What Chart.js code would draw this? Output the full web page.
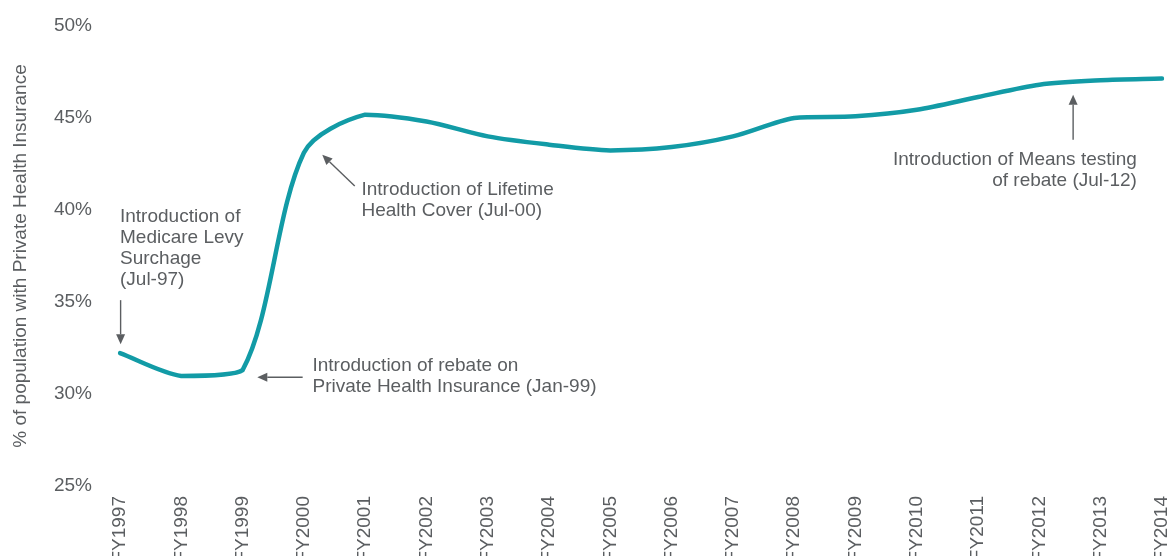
<!DOCTYPE html>
<html>
<head>
<meta charset="utf-8">
<title>Private Health Insurance coverage</title>
<script src="https://cdn.jsdelivr.net/npm/chart.js@4/dist/chart.umd.min.js"></script>
<style>
  html, body { margin: 0; padding: 0; background: #fff; overflow: hidden; }
  #wrap { width: 1168px; height: 556px; overflow: hidden; position: relative; }
  canvas { display: block; }
</style>
</head>
<body>
<div id="wrap">
  <canvas id="phiChart" width="1180" height="600"></canvas>
</div>
<script>
// Financial years shown on the x axis
const years = ['FY1997', 'FY1998', 'FY1999', 'FY2000', 'FY2001', 'FY2002', 'FY2003', 'FY2004', 'FY2005',
  'FY2006', 'FY2007', 'FY2008', 'FY2009', 'FY2010', 'FY2011', 'FY2012', 'FY2013', 'FY2014'];

// % of population with Private Health Insurance
const coverage = [32.22, 30.98, 31.3, 43.11, 45.18, 44.81, 44.0, 43.55, 43.24,
  43.42, 44.0, 45.0, 45.09, 45.45, 46.14, 46.81, 47.05, 47.14];

// Y axis range and step (percent)
const yMin = 25;
const yMax = 50;
const yStep = 5;

// Policy notes: text lines, anchor (year index, %) and arrow from/to
const notes = [
  {
    lines: ['Introduction of', 'Medicare Levy', 'Surchage', '(Jul-97)'],
    at: [0, 39.37], align: 'left',
    arrow: [0.01, 35.1, 0.01, 32.7]
  },
  {
    lines: ['Introduction of Lifetime', 'Health Cover (Jul-00)'],
    at: [3.94, 40.82], align: 'left',
    arrow: [3.83, 41.31, 3.30, 43.0]
  },
  {
    lines: ['Introduction of rebate on', 'Private Health Insurance (Jan-99)'],
    at: [3.14, 31.25], align: 'left',
    arrow: [2.98, 30.91, 2.24, 30.91]
  },
  {
    lines: ['Introduction of Means testing', 'of rebate (Jul-12)'],
    at: [16.59, 42.46], align: 'right',
    arrow: [15.55, 43.82, 15.55, 46.27]
  }
];

const textGrey = '#5b5e61';
const lineTeal = '#129ba6';

Chart.defaults.font.family = "'Liberation Sans', Arial, Helvetica, sans-serif";
Chart.defaults.color = textGrey;

// Stop the smoothed line from dipping below/above its neighbouring points
const noOvershoot = {
  id: 'noOvershoot',
  beforeDatasetDraw(chart, args) {
    const line = args.meta.dataset;
    line.updateControlPoints(chart.chartArea, 'x');
    const pts = args.meta.data;
    const clamp = (v, a, b) => Math.min(Math.max(v, Math.min(a, b)), Math.max(a, b));
    pts.forEach((p, i) => {
      const prev = pts[i - 1];
      const next = pts[i + 1];
      if (prev) p.cp1y = clamp(p.cp1y, prev.y, p.y);
      if (next) p.cp2y = clamp(p.cp2y, p.y, next.y);
    });
  }
};

// Draws the annotation text and arrows using the chart's own scales
const notesPlugin = {
  id: 'policyNotes',
  afterDraw(chart) {
    const ctx = chart.ctx;
    const xs = chart.scales.x;
    const ys = chart.scales.y;
    ctx.save();
    ctx.font = "19px 'Liberation Sans', Arial, sans-serif";
    ctx.fillStyle = textGrey;
    ctx.strokeStyle = textGrey;
    ctx.textBaseline = 'alphabetic';

    notes.forEach(n => {
      const tx = xs.getPixelForValue(n.at[0]);
      const ty = ys.getPixelForValue(n.at[1]);
      ctx.textAlign = n.align;
      n.lines.forEach((line, i) => {
        ctx.fillText(line, tx, ty + i * 21.3);
      });

      // arrow shaft and head
      const x1 = xs.getPixelForValue(n.arrow[0]);
      const y1 = ys.getPixelForValue(n.arrow[1]);
      const x2 = xs.getPixelForValue(n.arrow[2]);
      const y2 = ys.getPixelForValue(n.arrow[3]);
      const ang = Math.atan2(y2 - y1, x2 - x1);
      const headLen = 10;
      const headHalf = 4.5;
      const bx = x2 - headLen * Math.cos(ang);
      const by = y2 - headLen * Math.sin(ang);
      ctx.lineWidth = 1.4;
      ctx.beginPath();
      ctx.moveTo(x1, y1);
      ctx.lineTo(bx, by);
      ctx.stroke();
      ctx.beginPath();
      ctx.moveTo(x2, y2);
      ctx.lineTo(bx + headHalf * Math.sin(ang), by - headHalf * Math.cos(ang));
      ctx.lineTo(bx - headHalf * Math.sin(ang), by + headHalf * Math.cos(ang));
      ctx.closePath();
      ctx.fill();
    });
    ctx.restore();
  }
};

// keep the plot area fixed: no extra room reserved for edge labels
function noEdgePadding(scale) {
  scale.paddingTop = 0;
  scale.paddingBottom = 0;
  scale.paddingLeft = 0;
  scale.paddingRight = 0;
}

const ctx = document.getElementById('phiChart').getContext('2d');
new Chart(ctx, {
  type: 'line',
  data: {
    labels: years,
    datasets: [{
      label: '% of population with Private Health Insurance',
      data: coverage,
      borderColor: lineTeal,
      borderWidth: 4.5,
      borderCapStyle: 'round',
      borderJoinStyle: 'round',
      pointRadius: 0,
      fill: false,
      tension: 0.3
    }]
  },
  options: {
    responsive: false,
    animation: false,
    layout: {
      padding: { top: 26, right: 18, bottom: 0, left: 0 }
    },
    plugins: {
      legend: { display: false },
      tooltip: { enabled: false }
    },
    scales: {
      x: {
        grid: { display: false, drawTicks: false },
        border: { display: false },
        ticks: {
          autoSkip: false,
          maxRotation: 90,
          minRotation: 90,
          padding: 10,
          color: textGrey,
          font: { size: 19 }
        },
        afterFit(scale) {
          scale.height = 114;
          noEdgePadding(scale);
        }
      },
      y: {
        min: yMin,
        max: yMax,
        grid: { display: false, drawTicks: false },
        border: { display: false },
        ticks: {
          stepSize: yStep,
          padding: 28,
          color: textGrey,
          font: { size: 19 },
          callback: v => v + '%'
        },
        title: {
          display: true,
          text: '% of population with Private Health Insurance',
          color: textGrey,
          font: { size: 19 },
          padding: { top: 9, bottom: 0 }
        },
        afterFit(scale) {
          scale.width = 120;
          noEdgePadding(scale);
        }
      }
    }
  },
  plugins: [noOvershoot, notesPlugin]
});
</script>
</body>
</html>
